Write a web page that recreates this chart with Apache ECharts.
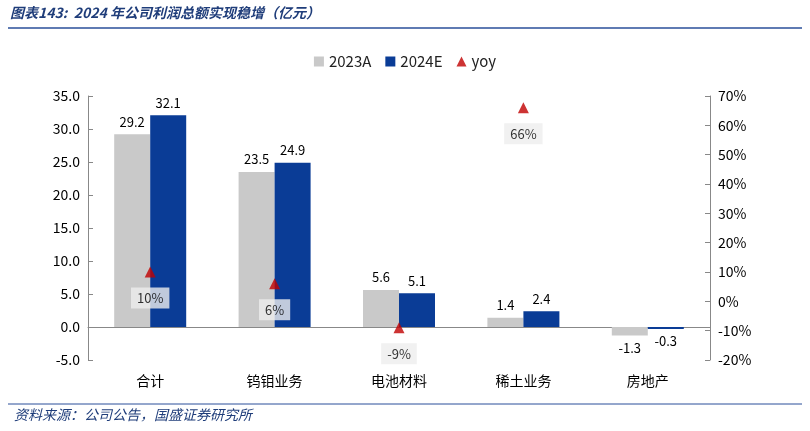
<!DOCTYPE html>
<html><head><meta charset="utf-8">
<script src="https://cdn.jsdelivr.net/npm/echarts@6/dist/echarts.min.js"></script>
<style>body{margin:0;background:#fff}#c{width:810px;height:431px}</style>
</head><body><div id="c"></div>
<script>
var categories = ['合计', '钨钼业务', '电池材料', '稀土业务', '房地产'];
var v2023 = [29.2, 23.5, 5.6, 1.4, -1.3];
var v2024 = [32.1, 24.9, 5.1, 2.4, -0.3];
var yoy = [10, 6, -9, 66, null];

var chart = echarts.init(document.getElementById('c'));
var font = '"Noto Sans CJK SC", sans-serif';
function barData(arr) {
  return arr.map(function (v) { return v < 0 ? { value: v, label: { position: 'bottom' } } : v; });
}
chart.setOption({
  animation: false,
  textStyle: { fontFamily: font },
  graphic: [
    { type: 'text', left: 10, top: 6, style: { text: '图表143:  2024 年公司利润总额实现稳增（亿元）', fontSize: 14, fontStyle: 'italic', fontWeight: 'bold', fill: '#1f3d7a', fontFamily: font } },
    { type: 'line', shape: { x1: 8, y1: 28, x2: 802, y2: 28 }, style: { stroke: '#2a4f9a', lineWidth: 1.5 } },
    { type: 'line', shape: { x1: 8, y1: 404, x2: 802, y2: 404 }, style: { stroke: '#2a4f9a', lineWidth: 1 } },
    { type: 'text', left: 14, top: 408, style: { text: '资料来源：公司公告，国盛证券研究所', fontSize: 14, fontStyle: 'italic', fill: '#1f3d7a', fontFamily: font } }
  ],
  legend: {
    top: 49, left: 'center', itemWidth: 10, itemHeight: 10, itemGap: 14,
    textStyle: { fontSize: 15, color: '#222' },
    data: [{ name: '2023A', icon: 'rect' }, { name: '2024E', icon: 'rect' }, { name: 'yoy', icon: 'triangle' }]
  },
  grid: { left: 88, right: 100, top: 96, bottom: 71 },
  xAxis: [
    { type: 'category', data: categories, position: 'bottom', axisLine: { show: false }, axisTick: { show: false },
      axisLabel: { fontSize: 14, color: '#000', margin: 14 } },
    { type: 'category', data: categories, position: 'bottom', axisLine: { onZero: true, onZeroAxisIndex: 0, lineStyle: { color: '#888' } }, axisTick: { show: false }, axisLabel: { show: false } }
  ],
  yAxis: [
    { type: 'value', min: -5, max: 35, interval: 5, splitLine: { show: false },
      axisLine: { show: true, lineStyle: { color: '#888' } }, axisTick: { show: true, inside: true },
      axisLabel: { fontSize: 14, color: '#000', formatter: function (v) { return v.toFixed(1); } } },
    { type: 'value', min: -20, max: 70, interval: 10, splitLine: { show: false },
      axisLine: { show: true, lineStyle: { color: '#888' } }, axisTick: { show: true, inside: true },
      axisLabel: { fontSize: 14, color: '#000', formatter: '{value}%' } }
  ],
  series: [
    { name: '2023A', type: 'bar', data: barData(v2023), barWidth: 36, barGap: '0%', itemStyle: { color: '#c9c9c9' },
      label: { show: true, position: 'top', fontSize: 13, color: '#000', distance: 6, formatter: function (p) { return p.value.toFixed(1); } } },
    { name: '2024E', type: 'bar', data: barData(v2024), barWidth: 36, itemStyle: { color: '#0a3c96' },
      label: { show: true, position: 'top', fontSize: 13, color: '#000', distance: 6, formatter: function (p) { return p.value.toFixed(1); } } },
    { name: 'yoy', type: 'scatter', yAxisIndex: 1, xAxisIndex: 1, data: yoy, symbol: 'triangle', symbolSize: 11,
      itemStyle: { color: '#c00000' },
      label: { show: true, position: 'bottom', distance: 10, fontSize: 13, color: '#000', backgroundColor: '#eeeeee', padding: [4, 6],
        formatter: function (p) { return p.value + '%'; } } }
  ]
});
</script></body></html>
